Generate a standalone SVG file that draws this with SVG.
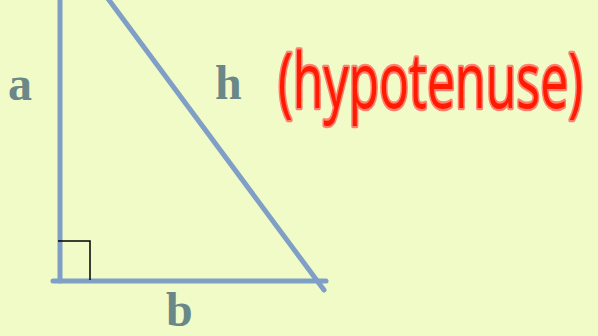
<svg xmlns="http://www.w3.org/2000/svg" width="598" height="336" viewBox="0 0 598 336">
<style>
.side{stroke:#7f9fc6;stroke-width:5;stroke-linecap:round;fill:none}
.lbl{font-family:"Liberation Serif",serif;font-weight:bold;font-size:48px;fill:#6b8888}
.hand{font-family:"Open Sans","DejaVu Sans",sans-serif;font-weight:normal;font-size:50px;fill:#ff1a00;stroke:#ff8070;stroke-width:3;stroke-linejoin:round;paint-order:stroke}
</style>
<rect width="598" height="336" fill="#f0fbc8"/>
<g id="connectors">
<line class="side" x1="60" y1="-5" x2="60" y2="281"/>
<line class="side" x1="53" y1="281" x2="326" y2="281"/>
<line class="side" x1="106" y1="-4" x2="324" y2="290"/>
<polyline points="58,241 90,241 90,280" fill="none" stroke="#000" stroke-width="1.5"/>
</g>
<g id="label-a"><text class="lbl" x="8" y="100">a</text></g>
<g id="label-h"><text class="lbl" x="215" y="99">h</text></g>
<g id="label-b"><text class="lbl" x="166" y="326">b</text></g>
<g id="hypotenuse"><text class="hand" transform="translate(278,108) scale(1,1.55)">(hypotenuse)</text></g>
</svg>
